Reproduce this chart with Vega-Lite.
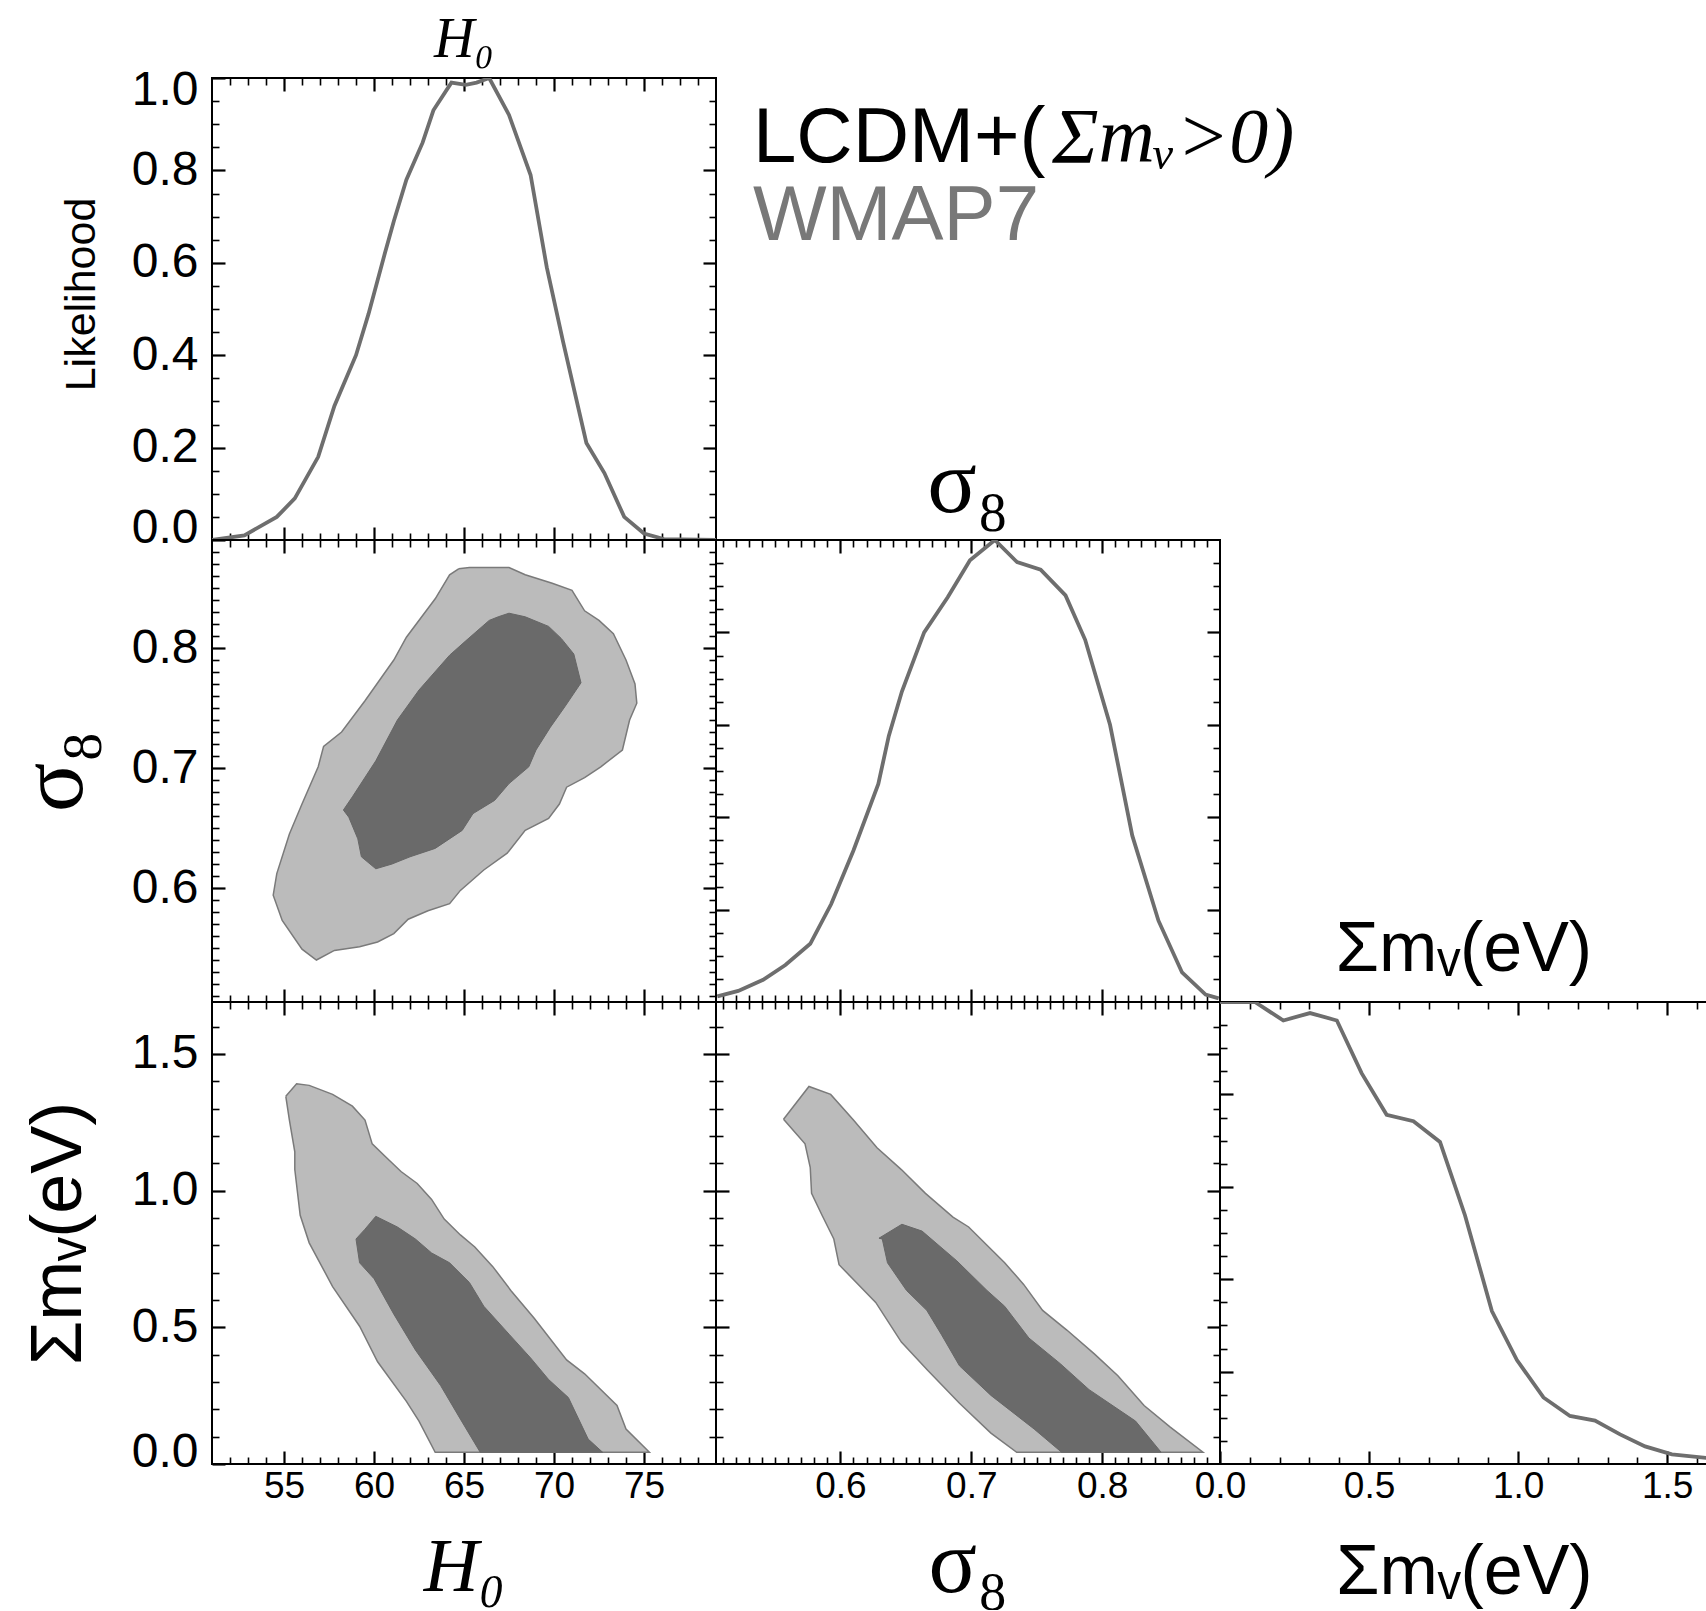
{
"$schema":"https://vega.github.io/schema/vega-lite/v6.json",
"background":"white",
"padding":{"left":6,"top":11,"right":0,"bottom":0},
"bounds":"flush",
"spacing":0,
"columns":3,
"config":{
 "view":{"stroke":"#000","strokeWidth":2},
 "axis":{"grid":false,"domain":false,"tickColor":"#000","labelFont":"Liberation Sans","labelColor":"#000","titleFont":"Liberation Sans","titleFontWeight":"normal","titleColor":"#000","labelFontSize":37},
 "axisX":{"labelFlush":false},
 "title":{"color":"#000","fontWeight":"normal"}
},
"datasets":{
"h0like":[{"h0":51.0,"L":0.0},{"h0":52.8,"L":0.01},{"h0":54.6,"L":0.05},{"h0":55.6,"L":0.09},{"h0":56.9,"L":0.18},{"h0":57.8,"L":0.29},{"h0":59.0,"L":0.40},{"h0":59.7,"L":0.49},{"h0":60.6,"L":0.62},{"h0":61.1,"L":0.69},{"h0":61.8,"L":0.78},{"h0":62.7,"L":0.86},{"h0":63.3,"L":0.93},{"h0":64.3,"L":0.99},{"h0":65.1,"L":0.985},{"h0":65.7,"L":0.99},{"h0":66.4,"L":1.0},{"h0":67.5,"L":0.92},{"h0":68.7,"L":0.79},{"h0":69.6,"L":0.59},{"h0":70.5,"L":0.43},{"h0":71.8,"L":0.21},{"h0":72.8,"L":0.145},{"h0":73.9,"L":0.05},{"h0":75.0,"L":0.014},{"h0":76.1,"L":0.002},{"h0":79.0,"L":0.0}],
"s8like":[{"s8":0.506,"L":0.012},{"s8":0.522,"L":0.024},{"s8":0.541,"L":0.048},{"s8":0.558,"L":0.08},{"s8":0.577,"L":0.126},{"s8":0.593,"L":0.212},{"s8":0.610,"L":0.328},{"s8":0.629,"L":0.472},{"s8":0.637,"L":0.576},{"s8":0.647,"L":0.672},{"s8":0.664,"L":0.80},{"s8":0.682,"L":0.876},{"s8":0.699,"L":0.956},{"s8":0.718,"L":1.0},{"s8":0.735,"L":0.952},{"s8":0.753,"L":0.936},{"s8":0.772,"L":0.88},{"s8":0.787,"L":0.784},{"s8":0.806,"L":0.60},{"s8":0.823,"L":0.36},{"s8":0.843,"L":0.176},{"s8":0.861,"L":0.064},{"s8":0.879,"L":0.016},{"s8":0.889,"L":0.008}],
"mnulike":[{"mnu":0.0,"L":1.0},{"mnu":0.117,"L":1.0},{"mnu":0.2125,"L":0.96},{"mnu":0.302,"L":0.976},{"mnu":0.392,"L":0.96},{"mnu":0.475,"L":0.846},{"mnu":0.559,"L":0.756},{"mnu":0.649,"L":0.742},{"mnu":0.738,"L":0.697},{"mnu":0.822,"L":0.538},{"mnu":0.912,"L":0.331},{"mnu":0.996,"L":0.225},{"mnu":1.085,"L":0.144},{"mnu":1.174,"L":0.104},{"mnu":1.258,"L":0.094},{"mnu":1.342,"L":0.064},{"mnu":1.426,"L":0.038},{"mnu":1.516,"L":0.021},{"mnu":1.637,"L":0.013}],
"c1":[
{"h0":64.7,"s8":0.866,"lev":"o","i":0},{"h0":65.3,"s8":0.867,"lev":"o","i":1},{"h0":67.5,"s8":0.867,"lev":"o","i":2},{"h0":68.4,"s8":0.861,"lev":"o","i":3},{"h0":69.9,"s8":0.854,"lev":"o","i":4},{"h0":71.0,"s8":0.848,"lev":"o","i":5},{"h0":71.7,"s8":0.831,"lev":"o","i":6},{"h0":72.5,"s8":0.823,"lev":"o","i":7},{"h0":73.3,"s8":0.812,"lev":"o","i":8},{"h0":74.0,"s8":0.790,"lev":"o","i":9},{"h0":74.5,"s8":0.770,"lev":"o","i":10},{"h0":74.6,"s8":0.754,"lev":"o","i":11},{"h0":74.2,"s8":0.740,"lev":"o","i":12},{"h0":73.8,"s8":0.715,"lev":"o","i":13},{"h0":72.6,"s8":0.701,"lev":"o","i":14},{"h0":71.7,"s8":0.692,"lev":"o","i":15},{"h0":70.7,"s8":0.684,"lev":"o","i":16},{"h0":70.3,"s8":0.670,"lev":"o","i":17},{"h0":69.7,"s8":0.658,"lev":"o","i":18},{"h0":68.4,"s8":0.648,"lev":"o","i":19},{"h0":67.4,"s8":0.629,"lev":"o","i":20},{"h0":66.1,"s8":0.615,"lev":"o","i":21},{"h0":64.8,"s8":0.598,"lev":"o","i":22},{"h0":64.2,"s8":0.587,"lev":"o","i":23},{"h0":63.0,"s8":0.581,"lev":"o","i":24},{"h0":61.9,"s8":0.574,"lev":"o","i":25},{"h0":61.1,"s8":0.562,"lev":"o","i":26},{"h0":60.2,"s8":0.555,"lev":"o","i":27},{"h0":59.2,"s8":0.551,"lev":"o","i":28},{"h0":57.8,"s8":0.548,"lev":"o","i":29},{"h0":56.8,"s8":0.540,"lev":"o","i":30},{"h0":56.0,"s8":0.549,"lev":"o","i":31},{"h0":54.9,"s8":0.573,"lev":"o","i":32},{"h0":54.4,"s8":0.594,"lev":"o","i":33},{"h0":54.6,"s8":0.612,"lev":"o","i":34},{"h0":55.3,"s8":0.645,"lev":"o","i":35},{"h0":56.0,"s8":0.670,"lev":"o","i":36},{"h0":56.9,"s8":0.701,"lev":"o","i":37},{"h0":57.2,"s8":0.718,"lev":"o","i":38},{"h0":58.2,"s8":0.730,"lev":"o","i":39},{"h0":59.5,"s8":0.756,"lev":"o","i":40},{"h0":61.1,"s8":0.790,"lev":"o","i":41},{"h0":61.8,"s8":0.809,"lev":"o","i":42},{"h0":63.4,"s8":0.841,"lev":"o","i":43},{"h0":64.2,"s8":0.861,"lev":"o","i":44},{"h0":64.7,"s8":0.866,"lev":"o","i":45},
{"h0":66.9,"s8":0.826,"lev":"n","i":0},{"h0":67.5,"s8":0.829,"lev":"n","i":1},{"h0":68.4,"s8":0.826,"lev":"n","i":2},{"h0":69.7,"s8":0.818,"lev":"n","i":3},{"h0":70.4,"s8":0.808,"lev":"n","i":4},{"h0":71.1,"s8":0.795,"lev":"n","i":5},{"h0":71.5,"s8":0.771,"lev":"n","i":6},{"h0":70.6,"s8":0.751,"lev":"n","i":7},{"h0":69.8,"s8":0.734,"lev":"n","i":8},{"h0":69.0,"s8":0.715,"lev":"n","i":9},{"h0":68.6,"s8":0.701,"lev":"n","i":10},{"h0":67.5,"s8":0.687,"lev":"n","i":11},{"h0":66.7,"s8":0.673,"lev":"n","i":12},{"h0":65.5,"s8":0.662,"lev":"n","i":13},{"h0":64.9,"s8":0.648,"lev":"n","i":14},{"h0":63.4,"s8":0.633,"lev":"n","i":15},{"h0":62.0,"s8":0.626,"lev":"n","i":16},{"h0":61.0,"s8":0.620,"lev":"n","i":17},{"h0":60.1,"s8":0.616,"lev":"n","i":18},{"h0":59.3,"s8":0.626,"lev":"n","i":19},{"h0":59.1,"s8":0.641,"lev":"n","i":20},{"h0":58.6,"s8":0.659,"lev":"n","i":21},{"h0":58.3,"s8":0.665,"lev":"n","i":22},{"h0":58.8,"s8":0.676,"lev":"n","i":23},{"h0":60.1,"s8":0.706,"lev":"n","i":24},{"h0":61.3,"s8":0.740,"lev":"n","i":25},{"h0":62.5,"s8":0.765,"lev":"n","i":26},{"h0":64.2,"s8":0.794,"lev":"n","i":27},{"h0":65.1,"s8":0.806,"lev":"n","i":28},{"h0":66.4,"s8":0.823,"lev":"n","i":29},{"h0":66.9,"s8":0.826,"lev":"n","i":30}],
"c2":[
{"h0":55.1,"mnu":1.345,"lev":"o","i":0},{"h0":55.7,"mnu":1.391,"lev":"o","i":1},{"h0":56.4,"mnu":1.385,"lev":"o","i":2},{"h0":57.7,"mnu":1.352,"lev":"o","i":3},{"h0":58.8,"mnu":1.309,"lev":"o","i":4},{"h0":59.5,"mnu":1.258,"lev":"o","i":5},{"h0":59.9,"mnu":1.171,"lev":"o","i":6},{"h0":60.7,"mnu":1.120,"lev":"o","i":7},{"h0":61.5,"mnu":1.070,"lev":"o","i":8},{"h0":62.4,"mnu":1.026,"lev":"o","i":9},{"h0":63.2,"mnu":0.968,"lev":"o","i":10},{"h0":63.9,"mnu":0.896,"lev":"o","i":11},{"h0":64.8,"mnu":0.838,"lev":"o","i":12},{"h0":65.6,"mnu":0.794,"lev":"o","i":13},{"h0":66.6,"mnu":0.722,"lev":"o","i":14},{"h0":67.6,"mnu":0.635,"lev":"o","i":15},{"h0":68.9,"mnu":0.533,"lev":"o","i":16},{"h0":70.7,"mnu":0.381,"lev":"o","i":17},{"h0":71.7,"mnu":0.330,"lev":"o","i":18},{"h0":73.5,"mnu":0.214,"lev":"o","i":19},{"h0":74.0,"mnu":0.128,"lev":"o","i":20},{"h0":75.3,"mnu":0.043,"lev":"o","i":21},{"h0":63.4,"mnu":0.043,"lev":"o","i":22},{"h0":62.5,"mnu":0.157,"lev":"o","i":23},{"h0":61.8,"mnu":0.229,"lev":"o","i":24},{"h0":60.2,"mnu":0.374,"lev":"o","i":25},{"h0":59.2,"mnu":0.504,"lev":"o","i":26},{"h0":57.7,"mnu":0.649,"lev":"o","i":27},{"h0":56.4,"mnu":0.809,"lev":"o","i":28},{"h0":55.9,"mnu":0.910,"lev":"o","i":29},{"h0":55.6,"mnu":1.077,"lev":"o","i":30},{"h0":55.6,"mnu":1.142,"lev":"o","i":31},{"h0":55.3,"mnu":1.258,"lev":"o","i":32},{"h0":55.1,"mnu":1.345,"lev":"o","i":33},
{"h0":60.1,"mnu":0.906,"lev":"n","i":0},{"h0":61.3,"mnu":0.867,"lev":"n","i":1},{"h0":62.3,"mnu":0.823,"lev":"n","i":2},{"h0":63.2,"mnu":0.772,"lev":"n","i":3},{"h0":64.2,"mnu":0.736,"lev":"n","i":4},{"h0":65.3,"mnu":0.664,"lev":"n","i":5},{"h0":66.1,"mnu":0.577,"lev":"n","i":6},{"h0":67.5,"mnu":0.475,"lev":"n","i":7},{"h0":68.7,"mnu":0.388,"lev":"n","i":8},{"h0":69.7,"mnu":0.309,"lev":"n","i":9},{"h0":70.8,"mnu":0.243,"lev":"n","i":10},{"h0":71.9,"mnu":0.091,"lev":"n","i":11},{"h0":72.7,"mnu":0.043,"lev":"n","i":12},{"h0":65.9,"mnu":0.043,"lev":"n","i":13},{"h0":64.8,"mnu":0.164,"lev":"n","i":14},{"h0":63.7,"mnu":0.287,"lev":"n","i":15},{"h0":62.3,"mnu":0.417,"lev":"n","i":16},{"h0":61.1,"mnu":0.548,"lev":"n","i":17},{"h0":60.0,"mnu":0.678,"lev":"n","i":18},{"h0":59.2,"mnu":0.736,"lev":"n","i":19},{"h0":59.0,"mnu":0.823,"lev":"n","i":20},{"h0":59.5,"mnu":0.859,"lev":"n","i":21},{"h0":60.1,"mnu":0.906,"lev":"n","i":22}],
"c3":[
{"s8":0.5566,"mnu":1.261,"lev":"o","i":0},{"s8":0.576,"mnu":1.381,"lev":"o","i":1},{"s8":0.5926,"mnu":1.352,"lev":"o","i":2},{"s8":0.610,"mnu":1.258,"lev":"o","i":3},{"s8":0.628,"mnu":1.157,"lev":"o","i":4},{"s8":0.6466,"mnu":1.077,"lev":"o","i":5},{"s8":0.665,"mnu":0.990,"lev":"o","i":6},{"s8":0.686,"mnu":0.903,"lev":"o","i":7},{"s8":0.698,"mnu":0.867,"lev":"o","i":8},{"s8":0.718,"mnu":0.772,"lev":"o","i":9},{"s8":0.7255,"mnu":0.736,"lev":"o","i":10},{"s8":0.740,"mnu":0.657,"lev":"o","i":11},{"s8":0.7545,"mnu":0.562,"lev":"o","i":12},{"s8":0.773,"mnu":0.490,"lev":"o","i":13},{"s8":0.794,"mnu":0.403,"lev":"o","i":14},{"s8":0.812,"mnu":0.323,"lev":"o","i":15},{"s8":0.832,"mnu":0.214,"lev":"o","i":16},{"s8":0.852,"mnu":0.135,"lev":"o","i":17},{"s8":0.877,"mnu":0.043,"lev":"o","i":18},{"s8":0.7347,"mnu":0.043,"lev":"o","i":19},{"s8":0.715,"mnu":0.113,"lev":"o","i":20},{"s8":0.691,"mnu":0.222,"lev":"o","i":21},{"s8":0.6663,"mnu":0.345,"lev":"o","i":22},{"s8":0.6466,"mnu":0.446,"lev":"o","i":23},{"s8":0.627,"mnu":0.591,"lev":"o","i":24},{"s8":0.599,"mnu":0.729,"lev":"o","i":25},{"s8":0.595,"mnu":0.823,"lev":"o","i":26},{"s8":0.586,"mnu":0.910,"lev":"o","i":27},{"s8":0.578,"mnu":0.990,"lev":"o","i":28},{"s8":0.577,"mnu":1.084,"lev":"o","i":29},{"s8":0.573,"mnu":1.171,"lev":"o","i":30},{"s8":0.5566,"mnu":1.261,"lev":"o","i":31},
{"s8":0.6295,"mnu":0.826,"lev":"n","i":0},{"s8":0.647,"mnu":0.877,"lev":"n","i":1},{"s8":0.6624,"mnu":0.852,"lev":"n","i":2},{"s8":0.689,"mnu":0.743,"lev":"n","i":3},{"s8":0.712,"mnu":0.635,"lev":"n","i":4},{"s8":0.7255,"mnu":0.577,"lev":"n","i":5},{"s8":0.744,"mnu":0.461,"lev":"n","i":6},{"s8":0.768,"mnu":0.367,"lev":"n","i":7},{"s8":0.790,"mnu":0.272,"lev":"n","i":8},{"s8":0.8255,"mnu":0.157,"lev":"n","i":9},{"s8":0.845,"mnu":0.043,"lev":"n","i":10},{"s8":0.769,"mnu":0.043,"lev":"n","i":11},{"s8":0.748,"mnu":0.128,"lev":"n","i":12},{"s8":0.715,"mnu":0.251,"lev":"n","i":13},{"s8":0.691,"mnu":0.359,"lev":"n","i":14},{"s8":0.677,"mnu":0.475,"lev":"n","i":15},{"s8":0.666,"mnu":0.562,"lev":"n","i":16},{"s8":0.6505,"mnu":0.635,"lev":"n","i":17},{"s8":0.636,"mnu":0.736,"lev":"n","i":18},{"s8":0.632,"mnu":0.823,"lev":"n","i":19},{"s8":0.6295,"mnu":0.826,"lev":"n","i":20}],
"legend":[{"part":"a","text":"LCDM+("},{"part":"b","text":"Σmᵥ>0)"},{"part":"c","text":"WMAP7"}],
"blank":[{"a":0.5}]
},
"concat":[
{"width":504,"height":462,
 "title":{"text":"H₀","font":"Liberation Serif","fontStyle":"italic","fontSize":56,"fontWeight":"normal","color":"#000","anchor":"middle","frame":"group","offset":-3},
 "resolve":{"axis":{"x":"independent","y":"independent"}},
 "layer":[
  {"data":{"name":"h0like"},"mark":{"type":"line","stroke":"#6e6e6e","strokeWidth":3.8,"clip":true},
   "encoding":{
    "x":{"field":"h0","type":"quantitative","scale":{"domain":[51,79],"nice":false,"zero":false},"axis":{"orient":"bottom","values":[55,60,65,70,75],"labels":false,"title":null,"tickSize":13,"offset":-13,"tickWidth":2.2}},
    "y":{"field":"L","type":"quantitative","scale":{"domain":[0,1],"nice":false,"zero":false},"axis":{"orient":"left","values":[0,0.2,0.4,0.6,0.8,1],"format":".1f","labelFlush":true,"labelFlushOffset":12,"labelFontSize":48,"labelPadding":14,"title":"Likelihood","titleFontSize":43,"titlePadding":28,"titleY":216,"tickSize":13,"offset":-13,"tickWidth":2.2}}}},
  {"data":{"name":"blank"},"transform":[{"filter":"false"}],"mark":{"type":"point","opacity":0},"encoding":{
    "x":{"field":"a","type":"quantitative","axis":{"orient":"bottom","values":[52,53,54,56,57,58,59,61,62,63,64,66,67,68,69,71,72,73,74,76,77,78],"labels":false,"title":null,"tickSize":7,"offset":-7,"tickWidth":1.6}},
    "y":{"field":"a","type":"quantitative","axis":{"orient":"left","values":[0.05,0.1,0.15,0.25,0.3,0.35,0.45,0.5,0.55,0.65,0.7,0.75,0.85,0.9,0.95],"labels":false,"title":null,"tickSize":7,"offset":-7,"tickWidth":1.6}}}},
  {"data":{"name":"blank"},"transform":[{"filter":"false"}],"mark":{"type":"point","opacity":0},"encoding":{
    "x":{"field":"a","type":"quantitative","axis":{"orient":"top","values":[55,60,65,70,75],"labels":false,"title":null,"tickSize":13,"offset":-13,"tickWidth":2.2}},
    "y":{"field":"a","type":"quantitative","axis":{"orient":"right","values":[0.2,0.4,0.6,0.8],"labels":false,"title":null,"tickSize":13,"offset":-13,"tickWidth":2.2}}}},
  {"data":{"name":"blank"},"transform":[{"filter":"false"}],"mark":{"type":"point","opacity":0},"encoding":{
    "x":{"field":"a","type":"quantitative","axis":{"orient":"top","values":[52,53,54,56,57,58,59,61,62,63,64,66,67,68,69,71,72,73,74,76,77,78],"labels":false,"title":null,"tickSize":7,"offset":-7,"tickWidth":1.6}},
    "y":{"field":"a","type":"quantitative","axis":{"orient":"right","values":[0.05,0.1,0.15,0.25,0.3,0.35,0.45,0.5,0.55,0.65,0.7,0.75,0.85,0.9,0.95],"labels":false,"title":null,"tickSize":7,"offset":-7,"tickWidth":1.6}}}}
 ]},
{"width":504,"height":462,"view":{"stroke":null},
 "data":{"name":"legend"},
 "layer":[
  {"transform":[{"filter":"datum.part=='a'"}],"mark":{"type":"text","align":"left","baseline":"alphabetic","font":"Liberation Sans","fontSize":78,"color":"#000"},
   "encoding":{"text":{"field":"text"},"x":{"datum":0.0734,"type":"quantitative","scale":{"domain":[0,1]},"axis":null},"y":{"datum":0.818,"type":"quantitative","scale":{"domain":[0,1]},"axis":null}}},
  {"transform":[{"filter":"datum.part=='b'"}],"mark":{"type":"text","align":"left","baseline":"alphabetic","font":"Liberation Serif","fontStyle":"italic","fontSize":78,"color":"#000"},
   "encoding":{"text":{"field":"text"},"x":{"datum":0.667,"type":"quantitative","scale":{"domain":[0,1]},"axis":null},"y":{"datum":0.818,"type":"quantitative","scale":{"domain":[0,1]},"axis":null}}},
  {"transform":[{"filter":"datum.part=='c'"}],"mark":{"type":"text","align":"left","baseline":"alphabetic","font":"Liberation Sans","fontSize":78,"color":"#787878"},
   "encoding":{"text":{"field":"text"},"x":{"datum":0.0734,"type":"quantitative","scale":{"domain":[0,1]},"axis":null},"y":{"datum":0.649,"type":"quantitative","scale":{"domain":[0,1]},"axis":null}}}
 ]},
{"width":488,"height":462,"view":{"stroke":null},"data":{"name":"blank"},"mark":{"type":"point","opacity":0},
 "encoding":{"x":{"field":"a","type":"quantitative","axis":null},"y":{"field":"a","type":"quantitative","axis":null}}},
{"width":504,"height":462,
 "resolve":{"axis":{"x":"independent","y":"independent"}},
 "layer":[
  {"data":{"name":"c1"},"transform":[{"filter":"datum.lev=='o'"}],"mark":{"type":"line","fill":"#bbbbbb","stroke":"#7a7a7a","strokeWidth":1.5},
   "encoding":{
    "x":{"field":"h0","type":"quantitative","scale":{"domain":[51,79],"nice":false,"zero":false},"axis":{"orient":"bottom","values":[55,60,65,70,75],"labels":false,"title":null,"tickSize":13,"offset":-13,"tickWidth":2.2}},
    "y":{"field":"s8","type":"quantitative","scale":{"domain":[0.505,0.89],"nice":false,"zero":false},"axis":{"orient":"left","values":[0.6,0.7,0.8],"format":".1f","labelFontSize":48,"labelPadding":14,"title":"σ₈","titleFont":"Liberation Serif","titleFontSize":92,"titlePadding":31,"tickSize":13,"offset":-13,"tickWidth":2.2}},
    "order":{"field":"i","type":"quantitative"}}},
  {"data":{"name":"c1"},"transform":[{"filter":"datum.lev=='n'"}],"mark":{"type":"line","fill":"#6a6a6a","stroke":"#666666","strokeWidth":1},
   "encoding":{
    "x":{"field":"h0","type":"quantitative","axis":null},
    "y":{"field":"s8","type":"quantitative","axis":null},
    "order":{"field":"i","type":"quantitative"}}},
  {"data":{"name":"blank"},"transform":[{"filter":"false"}],"mark":{"type":"point","opacity":0},"encoding":{
    "x":{"field":"a","type":"quantitative","axis":{"orient":"bottom","values":[52,53,54,56,57,58,59,61,62,63,64,66,67,68,69,71,72,73,74,76,77,78],"labels":false,"title":null,"tickSize":7,"offset":-7,"tickWidth":1.6}},
    "y":{"field":"a","type":"quantitative","axis":{"orient":"left","values":[0.51,0.52,0.53,0.54,0.55,0.56,0.57,0.58,0.59,0.61,0.62,0.63,0.64,0.65,0.66,0.67,0.68,0.69,0.71,0.72,0.73,0.74,0.75,0.76,0.77,0.78,0.79,0.81,0.82,0.83,0.84,0.85,0.86,0.87,0.88],"labels":false,"title":null,"tickSize":7,"offset":-7,"tickWidth":1.6}}}},
  {"data":{"name":"blank"},"transform":[{"filter":"false"}],"mark":{"type":"point","opacity":0},"encoding":{
    "x":{"field":"a","type":"quantitative","axis":{"orient":"top","values":[55,60,65,70,75],"labels":false,"title":null,"tickSize":13,"offset":-13,"tickWidth":2.2}},
    "y":{"field":"a","type":"quantitative","axis":{"orient":"right","values":[0.6,0.7,0.8],"labels":false,"title":null,"tickSize":13,"offset":-13,"tickWidth":2.2}}}},
  {"data":{"name":"blank"},"transform":[{"filter":"false"}],"mark":{"type":"point","opacity":0},"encoding":{
    "x":{"field":"a","type":"quantitative","axis":{"orient":"top","values":[52,53,54,56,57,58,59,61,62,63,64,66,67,68,69,71,72,73,74,76,77,78],"labels":false,"title":null,"tickSize":7,"offset":-7,"tickWidth":1.6}},
    "y":{"field":"a","type":"quantitative","axis":{"orient":"right","values":[0.51,0.52,0.53,0.54,0.55,0.56,0.57,0.58,0.59,0.61,0.62,0.63,0.64,0.65,0.66,0.67,0.68,0.69,0.71,0.72,0.73,0.74,0.75,0.76,0.77,0.78,0.79,0.81,0.82,0.83,0.84,0.85,0.86,0.87,0.88],"labels":false,"title":null,"tickSize":7,"offset":-7,"tickWidth":1.6}}}}
 ]},
{"width":504,"height":462,
 "title":{"text":"σ₈","font":"Liberation Serif","fontSize":92,"fontWeight":"normal","color":"#000","anchor":"middle","frame":"group","offset":8},
 "resolve":{"axis":{"x":"independent","y":"independent"}},
 "layer":[
  {"data":{"name":"s8like"},"mark":{"type":"line","stroke":"#6e6e6e","strokeWidth":3.8,"clip":true},
   "encoding":{
    "x":{"field":"s8","type":"quantitative","scale":{"domain":[0.505,0.89],"nice":false,"zero":false},"axis":{"orient":"bottom","values":[0.6,0.7,0.8],"labels":false,"title":null,"tickSize":13,"offset":-13,"tickWidth":2.2}},
    "y":{"field":"L","type":"quantitative","scale":{"domain":[0,1],"nice":false,"zero":false},"axis":{"orient":"left","values":[0.2,0.4,0.6,0.8],"labels":false,"title":null,"tickSize":13,"offset":-13,"tickWidth":2.2}}}},
  {"data":{"name":"blank"},"transform":[{"filter":"false"}],"mark":{"type":"point","opacity":0},"encoding":{
    "x":{"field":"a","type":"quantitative","axis":{"orient":"bottom","values":[0.51,0.52,0.53,0.54,0.55,0.56,0.57,0.58,0.59,0.61,0.62,0.63,0.64,0.65,0.66,0.67,0.68,0.69,0.71,0.72,0.73,0.74,0.75,0.76,0.77,0.78,0.79,0.81,0.82,0.83,0.84,0.85,0.86,0.87,0.88],"labels":false,"title":null,"tickSize":7,"offset":-7,"tickWidth":1.6}},
    "y":{"field":"a","type":"quantitative","axis":{"orient":"left","values":[0.05,0.1,0.15,0.25,0.3,0.35,0.45,0.5,0.55,0.65,0.7,0.75,0.85,0.9,0.95],"labels":false,"title":null,"tickSize":7,"offset":-7,"tickWidth":1.6}}}},
  {"data":{"name":"blank"},"transform":[{"filter":"false"}],"mark":{"type":"point","opacity":0},"encoding":{
    "x":{"field":"a","type":"quantitative","axis":{"orient":"top","values":[0.6,0.7,0.8],"labels":false,"title":null,"tickSize":13,"offset":-13,"tickWidth":2.2}},
    "y":{"field":"a","type":"quantitative","axis":{"orient":"right","values":[0.2,0.4,0.6,0.8],"labels":false,"title":null,"tickSize":13,"offset":-13,"tickWidth":2.2}}}},
  {"data":{"name":"blank"},"transform":[{"filter":"false"}],"mark":{"type":"point","opacity":0},"encoding":{
    "x":{"field":"a","type":"quantitative","axis":{"orient":"top","values":[0.51,0.52,0.53,0.54,0.55,0.56,0.57,0.58,0.59,0.61,0.62,0.63,0.64,0.65,0.66,0.67,0.68,0.69,0.71,0.72,0.73,0.74,0.75,0.76,0.77,0.78,0.79,0.81,0.82,0.83,0.84,0.85,0.86,0.87,0.88],"labels":false,"title":null,"tickSize":7,"offset":-7,"tickWidth":1.6}},
    "y":{"field":"a","type":"quantitative","axis":{"orient":"right","values":[0.05,0.1,0.15,0.25,0.3,0.35,0.45,0.5,0.55,0.65,0.7,0.75,0.85,0.9,0.95],"labels":false,"title":null,"tickSize":7,"offset":-7,"tickWidth":1.6}}}}
 ]},
{"width":488,"height":462,"view":{"stroke":null},"data":{"name":"blank"},"mark":{"type":"point","opacity":0},
 "encoding":{"x":{"field":"a","type":"quantitative","axis":null},"y":{"field":"a","type":"quantitative","axis":null}}},
{"width":504,"height":462,
 "resolve":{"axis":{"x":"independent","y":"independent"}},
 "layer":[
  {"data":{"name":"c2"},"transform":[{"filter":"datum.lev=='o'"}],"mark":{"type":"line","fill":"#bbbbbb","stroke":"#7a7a7a","strokeWidth":1.5},
   "encoding":{
    "x":{"field":"h0","type":"quantitative","scale":{"domain":[51,79],"nice":false,"zero":false},"axis":{"orient":"bottom","values":[55,60,65,70,75],"format":"d","labelFontSize":37,"labelPadding":4,"title":"H₀","titleFont":"Liberation Serif","titleFontStyle":"italic","titleFontSize":76,"titlePadding":26,"tickSize":13,"offset":-13,"tickWidth":2.2}},
    "y":{"field":"mnu","type":"quantitative","scale":{"domain":[0,1.69],"nice":false,"zero":false},"axis":{"orient":"left","values":[0,0.5,1,1.5],"format":".1f","labelFlush":true,"labelFlushOffset":12,"labelFontSize":48,"labelPadding":14,"title":"Σmᵥ(eV)","titleFontSize":72,"titlePadding":36,"tickSize":13,"offset":-13,"tickWidth":2.2}},
    "order":{"field":"i","type":"quantitative"}}},
  {"data":{"name":"c2"},"transform":[{"filter":"datum.lev=='n'"}],"mark":{"type":"line","fill":"#6a6a6a","stroke":"#666666","strokeWidth":1},
   "encoding":{
    "x":{"field":"h0","type":"quantitative","axis":null},
    "y":{"field":"mnu","type":"quantitative","axis":null},
    "order":{"field":"i","type":"quantitative"}}},
  {"data":{"name":"blank"},"transform":[{"filter":"false"}],"mark":{"type":"point","opacity":0},"encoding":{
    "x":{"field":"a","type":"quantitative","axis":{"orient":"bottom","values":[52,53,54,56,57,58,59,61,62,63,64,66,67,68,69,71,72,73,74,76,77,78],"labels":false,"title":null,"tickSize":7,"offset":-7,"tickWidth":1.6}},
    "y":{"field":"a","type":"quantitative","axis":{"orient":"left","values":[0.1,0.2,0.3,0.4,0.6,0.7,0.8,0.9,1.1,1.2,1.3,1.4,1.6],"labels":false,"title":null,"tickSize":7,"offset":-7,"tickWidth":1.6}}}},
  {"data":{"name":"blank"},"transform":[{"filter":"false"}],"mark":{"type":"point","opacity":0},"encoding":{
    "x":{"field":"a","type":"quantitative","axis":{"orient":"top","values":[55,60,65,70,75],"labels":false,"title":null,"tickSize":13,"offset":-13,"tickWidth":2.2}},
    "y":{"field":"a","type":"quantitative","axis":{"orient":"right","values":[0.5,1,1.5],"labels":false,"title":null,"tickSize":13,"offset":-13,"tickWidth":2.2}}}},
  {"data":{"name":"blank"},"transform":[{"filter":"false"}],"mark":{"type":"point","opacity":0},"encoding":{
    "x":{"field":"a","type":"quantitative","axis":{"orient":"top","values":[52,53,54,56,57,58,59,61,62,63,64,66,67,68,69,71,72,73,74,76,77,78],"labels":false,"title":null,"tickSize":7,"offset":-7,"tickWidth":1.6}},
    "y":{"field":"a","type":"quantitative","axis":{"orient":"right","values":[0.1,0.2,0.3,0.4,0.6,0.7,0.8,0.9,1.1,1.2,1.3,1.4,1.6],"labels":false,"title":null,"tickSize":7,"offset":-7,"tickWidth":1.6}}}}
 ]},
{"width":504,"height":462,
 "resolve":{"axis":{"x":"independent","y":"independent"}},
 "layer":[
  {"data":{"name":"c3"},"transform":[{"filter":"datum.lev=='o'"}],"mark":{"type":"line","fill":"#bbbbbb","stroke":"#7a7a7a","strokeWidth":1.5},
   "encoding":{
    "x":{"field":"s8","type":"quantitative","scale":{"domain":[0.505,0.89],"nice":false,"zero":false},"axis":{"orient":"bottom","values":[0.6,0.7,0.8],"format":".1f","labelFontSize":37,"labelPadding":4,"title":"σ₈","titleFont":"Liberation Serif","titleFontSize":90,"titlePadding":16,"tickSize":13,"offset":-13,"tickWidth":2.2}},
    "y":{"field":"mnu","type":"quantitative","scale":{"domain":[0,1.69],"nice":false,"zero":false},"axis":{"orient":"left","values":[0.5,1,1.5],"labels":false,"title":null,"tickSize":13,"offset":-13,"tickWidth":2.2}},
    "order":{"field":"i","type":"quantitative"}}},
  {"data":{"name":"c3"},"transform":[{"filter":"datum.lev=='n'"}],"mark":{"type":"line","fill":"#6a6a6a","stroke":"#666666","strokeWidth":1},
   "encoding":{
    "x":{"field":"s8","type":"quantitative","axis":null},
    "y":{"field":"mnu","type":"quantitative","axis":null},
    "order":{"field":"i","type":"quantitative"}}},
  {"data":{"name":"blank"},"transform":[{"filter":"false"}],"mark":{"type":"point","opacity":0},"encoding":{
    "x":{"field":"a","type":"quantitative","axis":{"orient":"bottom","values":[0.51,0.52,0.53,0.54,0.55,0.56,0.57,0.58,0.59,0.61,0.62,0.63,0.64,0.65,0.66,0.67,0.68,0.69,0.71,0.72,0.73,0.74,0.75,0.76,0.77,0.78,0.79,0.81,0.82,0.83,0.84,0.85,0.86,0.87,0.88],"labels":false,"title":null,"tickSize":7,"offset":-7,"tickWidth":1.6}},
    "y":{"field":"a","type":"quantitative","axis":{"orient":"left","values":[0.1,0.2,0.3,0.4,0.6,0.7,0.8,0.9,1.1,1.2,1.3,1.4,1.6],"labels":false,"title":null,"tickSize":7,"offset":-7,"tickWidth":1.6}}}},
  {"data":{"name":"blank"},"transform":[{"filter":"false"}],"mark":{"type":"point","opacity":0},"encoding":{
    "x":{"field":"a","type":"quantitative","axis":{"orient":"top","values":[0.6,0.7,0.8],"labels":false,"title":null,"tickSize":13,"offset":-13,"tickWidth":2.2}},
    "y":{"field":"a","type":"quantitative","axis":{"orient":"right","values":[0.5,1,1.5],"labels":false,"title":null,"tickSize":13,"offset":-13,"tickWidth":2.2}}}},
  {"data":{"name":"blank"},"transform":[{"filter":"false"}],"mark":{"type":"point","opacity":0},"encoding":{
    "x":{"field":"a","type":"quantitative","axis":{"orient":"top","values":[0.51,0.52,0.53,0.54,0.55,0.56,0.57,0.58,0.59,0.61,0.62,0.63,0.64,0.65,0.66,0.67,0.68,0.69,0.71,0.72,0.73,0.74,0.75,0.76,0.77,0.78,0.79,0.81,0.82,0.83,0.84,0.85,0.86,0.87,0.88],"labels":false,"title":null,"tickSize":7,"offset":-7,"tickWidth":1.6}},
    "y":{"field":"a","type":"quantitative","axis":{"orient":"right","values":[0.1,0.2,0.3,0.4,0.6,0.7,0.8,0.9,1.1,1.2,1.3,1.4,1.6],"labels":false,"title":null,"tickSize":7,"offset":-7,"tickWidth":1.6}}}}
 ]},
{"width":488,"height":462,
 "title":{"text":"Σmᵥ(eV)","font":"Liberation Sans","fontSize":70,"fontWeight":"normal","color":"#000","anchor":"middle","frame":"group","offset":15},
 "resolve":{"axis":{"x":"independent","y":"independent"}},
 "layer":[
  {"data":{"name":"mnulike"},"mark":{"type":"line","stroke":"#6e6e6e","strokeWidth":3.8,"clip":true},
   "encoding":{
    "x":{"field":"mnu","type":"quantitative","scale":{"domain":[0,1.637],"nice":false,"zero":false},"axis":{"orient":"bottom","values":[0,0.5,1,1.5],"format":".1f","labelFontSize":37,"labelPadding":4,"title":"Σmᵥ(eV)","titleFontSize":70,"titlePadding":34,"tickSize":13,"offset":-13,"tickWidth":2.2}},
    "y":{"field":"L","type":"quantitative","scale":{"domain":[0,1],"nice":false,"zero":false},"axis":{"orient":"left","values":[0.2,0.4,0.6,0.8],"labels":false,"title":null,"tickSize":13,"offset":-13,"tickWidth":2.2}}}},
  {"data":{"name":"blank"},"transform":[{"filter":"false"}],"mark":{"type":"point","opacity":0},"encoding":{
    "x":{"field":"a","type":"quantitative","axis":{"orient":"bottom","values":[0.1,0.2,0.3,0.4,0.6,0.7,0.8,0.9,1.1,1.2,1.3,1.4,1.6],"labels":false,"title":null,"tickSize":7,"offset":-7,"tickWidth":1.6}},
    "y":{"field":"a","type":"quantitative","axis":{"orient":"left","values":[0.05,0.1,0.15,0.25,0.3,0.35,0.45,0.5,0.55,0.65,0.7,0.75,0.85,0.9,0.95],"labels":false,"title":null,"tickSize":7,"offset":-7,"tickWidth":1.6}}}},
  {"data":{"name":"blank"},"transform":[{"filter":"false"}],"mark":{"type":"point","opacity":0},"encoding":{
    "x":{"field":"a","type":"quantitative","axis":{"orient":"top","values":[0.5,1,1.5],"labels":false,"title":null,"tickSize":13,"offset":-13,"tickWidth":2.2}},
    "y":{"field":"a","type":"quantitative","axis":null}}},
  {"data":{"name":"blank"},"transform":[{"filter":"false"}],"mark":{"type":"point","opacity":0},"encoding":{
    "x":{"field":"a","type":"quantitative","axis":{"orient":"top","values":[0.1,0.2,0.3,0.4,0.6,0.7,0.8,0.9,1.1,1.2,1.3,1.4,1.6],"labels":false,"title":null,"tickSize":7,"offset":-7,"tickWidth":1.6}},
    "y":{"field":"a","type":"quantitative","axis":null}}}
 ]}
]
}
